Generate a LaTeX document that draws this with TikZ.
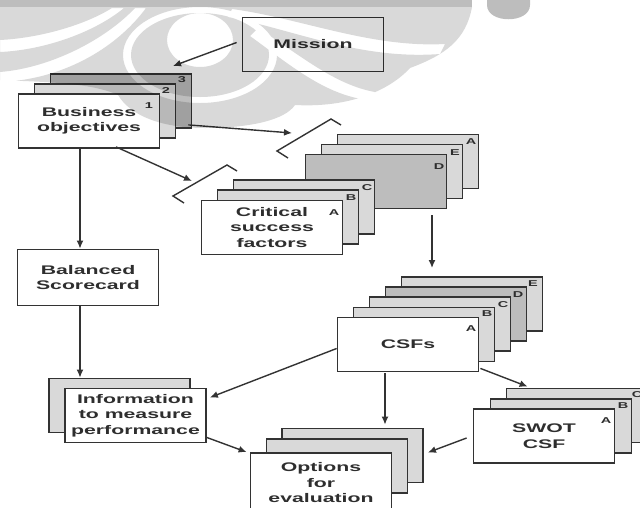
\documentclass[tikz,border=0pt]{standalone}
\usepackage{fontspec}
\newfontfamily\lbl{Liberation Sans}[FakeStretch=1.7]
\usetikzlibrary{arrows.meta,calc}
\definecolor{ln}{HTML}{333333}
\definecolor{lg}{HTML}{D9D9D9}
\definecolor{dg}{HTML}{BDBDBD}
\definecolor{tx}{HTML}{2E2E2E}
\tikzset{
 box/.style={draw=ln, line width=1.8pt, fill=white, minimum width=141pt, minimum height=54pt, inner sep=0pt, align=center, text=tx, font=\lbl\bfseries\fontsize{12.5pt}{15.5pt}\selectfont},
 lbox/.style={box, fill=lg},
 dbox/.style={box, fill=dg},
 tag/.style={inner sep=0pt, text=tx, font=\lbl\bfseries\fontsize{8.5pt}{9pt}\selectfont},
 arr/.style={draw=ln, line width=1.4pt, -{Latex[length=8pt,width=7pt]}},
 brk/.style={draw=ln, line width=1.4pt}
}
\begin{document}
\begin{tikzpicture}[x=1pt,y=-1pt]
\useasboundingbox (0,0) rectangle (640,507);
\clip (0,0) rectangle (640,507);

% Mission
\node[box] (m) at (313,44.5) {Mission};

% Business objectives stack
\node[dbox] (b3) at (121,101) {};
\node[lbox] (b2) at (105,111) {};
\node[box] (b1) at (89,121) {Business\\objectives};
\node[tag] (t1) at (149,106) {1};
\node[tag] (t2) at (166,91) {2};
\node[tag] (t3) at (182,80) {3};

% upper CSF stack
\node[lbox] (ua) at (408,161.5) {};
\node[lbox] (ue) at (392,171.5) {};
\node[dbox] (ud) at (376,181.5) {};
\node[tag] (tua) at (471,142) {A};
\node[tag] (tue) at (455,153) {E};
\node[tag] (tud) at (439,167) {D};

% lower CSF stack
\node[lbox] (lc) at (304,207) {};
\node[lbox] (lb) at (288,217) {};
\node[box] (la) at (272,227.5) {Critical\\success\\factors};
\node[tag] (tlc) at (367,188) {C};
\node[tag] (tlb) at (351,198) {B};
\node[tag] (tla) at (334,213) {A};

% CSFs stack
\node[lbox] (ce) at (472,304) {};
\node[dbox] (cd) at (456,314) {};
\node[lbox] (cc) at (440,324) {};
\node[lbox] (cb) at (424,334.5) {};
\node[box] (ca) at (408,344.5) {CSFs};
\node[tag] (tce) at (533,284) {E};
\node[tag] (tcd) at (518,295) {D};
\node[tag] (tcc) at (503,305) {C};
\node[tag] (tcb) at (487,314) {B};
\node[tag] (tca) at (471,329) {A};

% SWOT stack
\node[lbox] (sc) at (577,415.5) {};
\node[lbox] (sb) at (561,426) {};
\node[box] (sa) at (544,436) {SWOT\\CSF};
\node[tag] (tsc) at (637,395) {C};
\node[tag] (tsb) at (623,406) {B};
\node[tag] (tsa) at (606,421) {A};

% Options stack
\node[lbox] (oc) at (352.5,455.5) {};
\node[lbox] (ob) at (337,466) {};
\node[box, minimum height=60pt] (oa) at (321,483) {Options\\for\\evaluation};

% Information stack
\node[lbox] (ib) at (119.5,405.5) {};
\node[box] (ia) at (135.5,415.5) {Information\\to measure\\performance};

% Balanced scorecard
\node[box, minimum height=56pt] (bal) at (88,277.5) {Balanced\\Scorecard};

% brackets
\coordinate (p1) at (288,158);
\coordinate (p2) at (277,151);
\coordinate (p3) at (331,119);
\coordinate (p4) at (341,125);
\draw[brk] (p1) -- (p2) -- (p3) -- (p4);
\coordinate (q1) at (184,203);
\coordinate (q2) at (173,196);
\coordinate (q3) at (227,165);
\coordinate (q4) at (237,171);
\draw[brk] (q1) -- (q2) -- (q3) -- (q4);

% connectors
\coordinate (mt) at (173,66);
\draw[arr] ($(m.west)+(-5,-2)$) -- (mt);
\coordinate (k1) at (292,133);
\draw[arr] ($(b3.south east)+(-4,-4)$) -- (k1);
\coordinate (k2) at (192,181);
\draw[arr] ($(b1.south)+(27,-2)$) -- (k2);
\draw[arr] ($(b1.south)+(-9,0)$) -- ($(bal.north)+(-8,0)$);
\draw[arr] ($(bal.south)+(-8,0)$) -- ($(ib.north)+(-39.5,0)$);
\coordinate (d1) at (432,268);
\draw[arr] ($(ud.south)+(56,6)$) -- (d1);
\draw[arr] ($(ca.south)+(-23,1)$) -- ($(oc.north)+(32.5,-3)$);
\draw[arr] ($(ca.west)+(0,4)$) -- ($(ia.east)+(3,-18)$);
\draw[arr] ($(ca.south east)+(1,-4)$) -- ($(sc.north west)+(22,-1)$);
\draw[arr] ($(sa.west)+(-6,2)$) -- ($(oc.east)+(4,-3)$);
\draw[arr] ($(ia.east)+(0,22)$) -- ($(oa.north west)+(-3,0)$);

% watermark (drawn over the diagram, translucent)
\fill[black, fill opacity=0.26] (0,0) rectangle (472,7);
\fill[black, fill opacity=0.26] (487,0) -- (487,5) .. controls (487,24) and (530,24) .. (530,5) -- (530,0) -- cycle;
\begin{scope}[even odd rule]
 \clip (-5,-5) rectangle (645,512) (200,40) ellipse [x radius=33, y radius=27];
 \clip (-5,-5) rectangle (645,512) (200,55) ellipse [x radius=77, y radius=48] (200,55) ellipse [x radius=69, y radius=42];
 \clip (-5,-5) rectangle (645,512) (0,40) .. controls (40,38) and (85,25) .. (112,8) -- (124,8) .. controls (95,32) and (45,50) .. (0,52) -- cycle;
 \clip (-5,-5) rectangle (645,512) (0,72) .. controls (50,68) and (105,40) .. (135,8) -- (146,8) .. controls (115,50) and (60,80) .. (0,82) -- cycle;
 \clip (-5,-5) rectangle (645,512) (232,9) .. controls (300,18) and (370,48) .. (445,44) -- (440,54) .. controls (360,60) and (295,30) .. (228,17) -- cycle;
 \clip (-5,-5) rectangle (645,512) (258,28) .. controls (300,55) and (335,85) .. (375,92) -- (368,100) .. controls (325,95) and (290,65) .. (250,36) -- cycle;
 \fill[black, fill opacity=0.15] (0,7) -- (472,7) .. controls (466,40) and (445,55) .. (410,68) .. controls (390,90) and (350,108) .. (295,105) .. controls (285,120) and (250,128) .. (205,128) .. controls (160,128) and (130,115) .. (118,95) .. controls (90,82) and (40,82) .. (0,80) -- cycle;
\end{scope}
\end{tikzpicture}
\end{document}
